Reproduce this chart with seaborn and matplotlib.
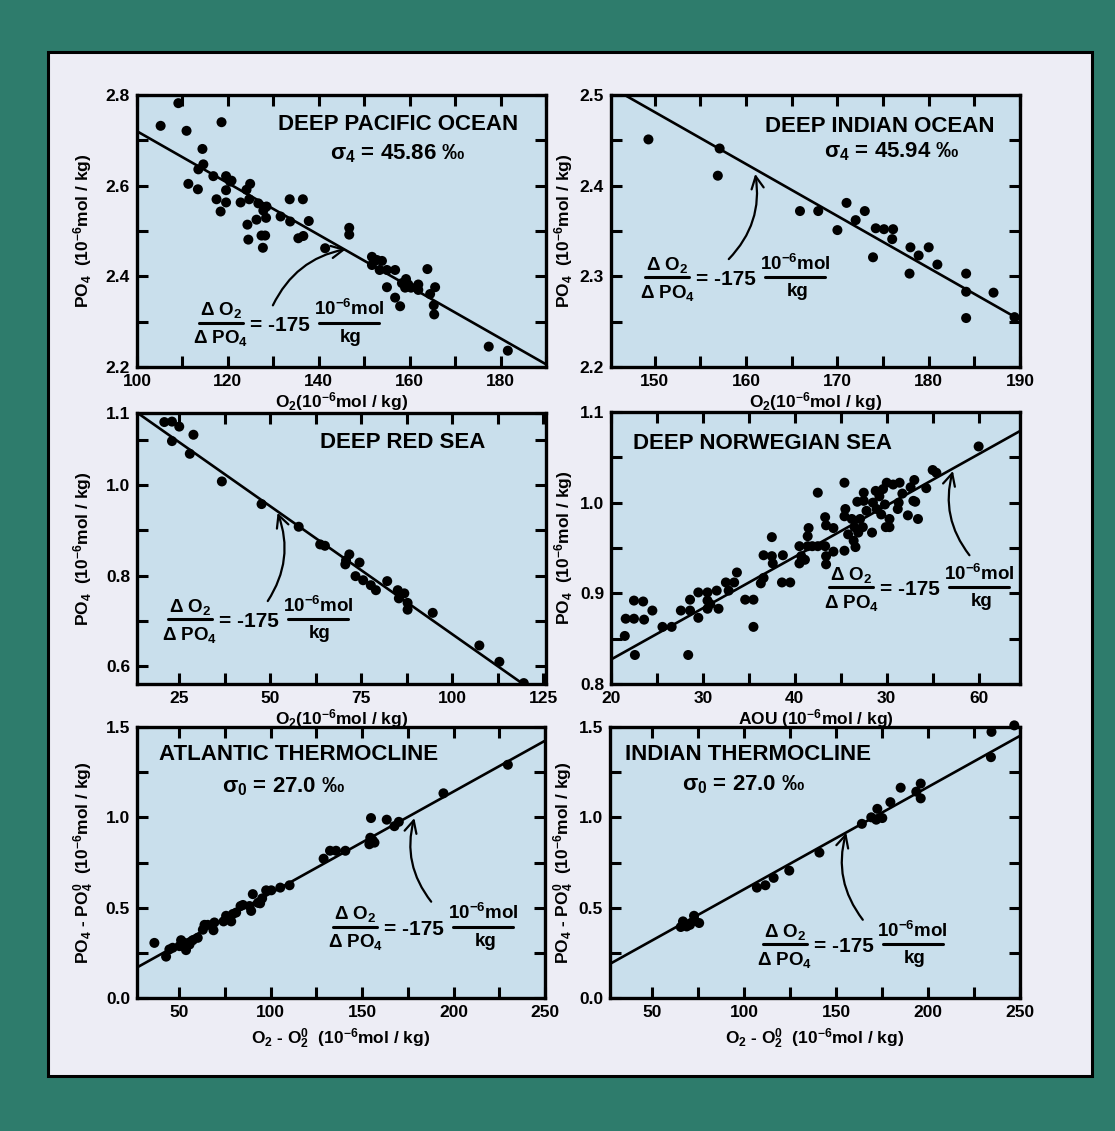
import numpy as np
import pandas as pd
import matplotlib
matplotlib.use("Agg")
import matplotlib.pyplot as plt
import matplotlib.transforms as mtransforms
from matplotlib.patches import Rectangle
from matplotlib.lines import Line2D
import seaborn as sns

# ---------------- data ----------------
pac_o2 = [109.1, 105.2, 110.9, 118.6, 114.4, 114.6, 113.5, 111.3, 113.4, 116.8,
          119.6, 120.8, 119.6, 120.5, 117.5, 119.6, 118.4, 122.8, 124.9, 124.1,
          124.7, 126.7, 127.8, 128.5, 126.3, 128.4, 124.3, 124.5, 127.4, 128.2,
          127.7, 131.6, 133.7, 133.6, 136.5, 137.8, 135.5, 136.6, 141.4,
          146.7, 146.7, 151.7, 152.8, 153.9, 151.7, 153.4, 155.0, 156.8, 155.0,
          156.8, 157.9, 159.2, 158.3, 159.7, 159.0, 160.3, 161.9, 161.9, 163.9,
          165.6, 164.5, 165.3, 165.4, 177.4, 181.6]
pac_po4 = [2.782, 2.732, 2.721, 2.740, 2.681, 2.647, 2.636, 2.604, 2.592, 2.621,
           2.621, 2.611, 2.590, 2.609, 2.570, 2.563, 2.543, 2.563, 2.604, 2.591,
           2.570, 2.561, 2.545, 2.554, 2.525, 2.529, 2.514, 2.481, 2.490, 2.490,
           2.463, 2.532, 2.521, 2.570, 2.570, 2.522, 2.484, 2.489, 2.462,
           2.507, 2.492, 2.443, 2.436, 2.434, 2.425, 2.414, 2.414, 2.414, 2.376,
           2.353, 2.334, 2.394, 2.385, 2.382, 2.375, 2.375, 2.382, 2.370, 2.416,
           2.376, 2.361, 2.336, 2.316, 2.245, 2.236]
pac_fit_x = [100, 190]
pac_fit_y = [2.72, 2.206]

ind_o2 = [149.3, 157.1, 156.9, 165.9, 167.9, 170.0, 171.0, 172.0, 173.0, 174.2,
          175.1, 176.1, 176.0, 173.9, 178.0, 177.9, 178.9, 180.0, 180.95, 184.1,
          184.1, 184.1, 187.1, 189.4]
ind_po4 = [2.451, 2.441, 2.411, 2.372, 2.372, 2.351, 2.381, 2.362, 2.372, 2.353,
           2.352, 2.352, 2.341, 2.321, 2.332, 2.303, 2.323, 2.332, 2.313, 2.303,
           2.283, 2.254, 2.282, 2.255]
ind_fit_x = [146.7, 190]
ind_fit_y = [2.5, 2.252]

red_o2 = [20.9, 23.0, 25.0, 23.0, 28.9, 27.9, 36.7, 47.6, 57.8, 63.7, 65.0, 70.8,
          71.7, 70.6, 74.5, 73.4, 75.5, 77.6, 79.0, 82.1, 85.0, 86.8, 85.3, 87.7,
          87.7, 94.6, 107.4, 112.9, 119.6]
red_po4 = [1.139, 1.140, 1.129, 1.097, 1.111, 1.069, 1.008, 0.958, 0.908, 0.869,
           0.866, 0.834, 0.847, 0.825, 0.829, 0.799, 0.790, 0.779, 0.768, 0.788,
           0.768, 0.761, 0.750, 0.740, 0.725, 0.718, 0.646, 0.610, 0.563]
red_fit_x = [13.4, 121.0]
red_fit_y = [1.160, 0.552]

nor_aou = [21.5, 21.6, 22.5, 22.6, 22.5, 23.5, 23.6, 24.5, 25.6, 26.6, 27.6, 28.6,
           28.6, 28.4, 29.5, 29.5, 30.5, 30.5, 30.5, 30.8, 31.5, 31.7, 32.5, 32.8,
           33.4, 33.7, 34.6, 35.5, 35.5, 36.3, 36.6, 36.6, 37.5, 37.5, 37.6, 38.6,
           39.5, 38.7, 40.5, 40.7, 41.1, 40.5, 41.4, 41.9, 42.5, 41.4, 41.5, 42.5,
           43.3, 43.3, 43.4, 43.4, 43.4, 44.2, 44.2,
           45.4, 45.5, 45.4, 45.4, 46.2, 45.8, 46.5, 46.9, 46.4, 46.6, 47.1, 47.4,
           47.5, 47.5, 47.8, 48.5, 48.4, 48.9, 49.2, 49.4, 49.6, 49.8, 50.0, 50.3,
           50.3, 50.7, 51.4, 51.3, 51.2, 52.3, 53.0, 52.9, 53.4, 54.3, 55.0, 55.4,
           60.0, 48.8, 52.6, 51.7, 53.1, 49.9, 46.8]
nor_po4 = [0.853, 0.872, 0.872, 0.832, 0.892, 0.891, 0.871, 0.881, 0.863, 0.863,
           0.881, 0.893, 0.881, 0.832, 0.901, 0.873, 0.901, 0.892, 0.883, 0.888,
           0.903, 0.883, 0.912, 0.903, 0.912, 0.923, 0.893, 0.893, 0.863, 0.911,
           0.917, 0.942, 0.941, 0.962, 0.933, 0.912, 0.912, 0.942, 0.933, 0.941,
           0.937, 0.952, 0.952, 0.952, 0.952, 0.963, 0.972, 1.011,
           0.952, 0.984, 0.975, 0.941, 0.932, 0.972, 0.946,
           1.022, 0.993, 0.985, 0.947, 0.982, 0.965, 0.973, 0.967, 0.958, 0.951,
           0.982, 0.973, 1.011, 1.002, 0.991, 1.000, 0.967, 0.993, 1.007, 0.987,
           1.015, 0.998, 1.022, 0.973, 0.982, 1.020, 1.022, 1.000, 0.993, 0.986,
           1.025, 1.002, 0.982, 1.016, 1.036, 1.033, 1.062,
           1.013, 1.017, 1.010, 1.001, 0.973, 1.001]
nor_fit_x = [20, 64.5]
nor_fit_y = [0.827, 1.079]

atl_do2 = [36.5, 42.9, 44.7, 46.5, 51.1, 52.9, 50.2, 53.8, 55.7, 57.5,
           60.2, 63.9, 63.0, 65.7, 68.8, 69.3, 74.3, 75.7, 78.5, 79.4,
           81.2, 83.6, 84.9, 88.5, 89.4, 90.3, 93.1, 95.4, 94.3, 97.6,
           100.4, 105.3, 110.4, 129.0, 132.5, 135.8, 140.9, 154.9, 154.0, 155.8,
           154.5, 156.8, 163.5, 167.7, 170.1, 194.5, 229.7]
atl_dpo4 = [0.305, 0.229, 0.269, 0.278, 0.320, 0.305, 0.287, 0.265, 0.296, 0.320,
            0.333, 0.405, 0.378, 0.405, 0.375, 0.418, 0.424, 0.455, 0.424, 0.465,
            0.473, 0.509, 0.515, 0.509, 0.482, 0.575, 0.527, 0.551, 0.524, 0.596,
            0.596, 0.611, 0.624, 0.771, 0.815, 0.815, 0.815, 0.996, 0.851, 0.873,
            0.887, 0.860, 0.987, 0.951, 0.975, 1.133, 1.291]
atl_fit_x = [27, 250]
atl_fit_y = [0.169, 1.424]

itc_do2 = [65.5, 66.7, 68.7, 70.5, 72.7, 73.1, 75.5, 106.9, 111.5, 116.0, 124.5,
           140.9, 164.0, 169.1, 171.8, 172.4, 175.1, 179.5, 185.1, 193.6, 196.0,
           196.0, 234.5, 234.2, 246.9]
itc_dpo4 = [0.393, 0.424, 0.396, 0.405, 0.455, 0.429, 0.415, 0.611, 0.624, 0.665,
            0.705, 0.805, 0.964, 1.000, 0.987, 1.047, 0.996, 1.084, 1.164, 1.142,
            1.187, 1.105, 1.473, 1.333, 1.509]
itc_fit_x = [27, 250]
itc_fit_y = [0.189, 1.451]

# tick labels
pac_xticks = [100, 110, 120, 130, 140, 150, 160, 170, 180, 190]
pac_xlabels = ["100", "", "120", "", "140", "", "160", "", "180", ""]
pac_yticks = [2.2, 2.3, 2.4, 2.5, 2.6, 2.7, 2.8]
pac_ylabels = ["2.2", "", "2.4", "", "2.6", "", "2.8"]
ind_xticks = [150, 155, 160, 165, 170, 175, 180, 185, 190]
ind_xlabels = ["150", "", "160", "", "170", "", "180", "", "190"]
ind_yticks = [2.2, 2.25, 2.3, 2.35, 2.4, 2.45, 2.5]
ind_ylabels = ["2.2", "", "2.3", "", "2.4", "", "2.5"]
red_xticks = [25, 37.5, 50, 62.5, 75, 87.5, 100, 112.5, 125]
red_xlabels = ["25", "", "50", "", "75", "", "100", "", "125"]
red_yticks = [0.6, 0.7, 0.8, 0.9, 1.0, 1.1, 1.159]
red_ylabels = ["0.6", "", "0.8", "", "1.0", "", "1.1"]
nor_xticks = [20, 25, 30, 35, 40, 45, 50, 55, 60]
nor_xlabels = ["20", "", "30", "", "40", "", "30", "", "60"]
nor_yticks = [0.8, 0.85, 0.9, 0.95, 1.0, 1.05, 1.1]
nor_ylabels = ["0.8", "", "0.9", "", "1.0", "", "1.1"]
thc_xticks = [50, 75, 100, 125, 150, 175, 200, 225, 250]
thc_xlabels = ["50", "", "100", "", "150", "", "200", "", "250"]
thc_yticks = [0.0, 0.25, 0.5, 0.75, 1.0, 1.25, 1.5]
thc_ylabels = ["0.0", "", "0.5", "", "1.0", "", "1.5"]

# ---------------- style ----------------
sns.set_style("ticks")
plt.rcParams["font.family"] = ["Liberation Sans", "DejaVu Sans"]
plt.rcParams["font.weight"] = "bold"
plt.rcParams["axes.labelweight"] = "bold"
plt.rcParams["text.color"] = "black"
plt.rcParams["axes.labelcolor"] = "black"
plt.rcParams["xtick.color"] = "black"
plt.rcParams["ytick.color"] = "black"
plt.rcParams["mathtext.fontset"] = "custom"
plt.rcParams["mathtext.rm"] = "Liberation Sans:bold"
plt.rcParams["mathtext.it"] = "Liberation Sans:bold"
plt.rcParams["mathtext.bf"] = "Liberation Sans:bold"
plt.rcParams["mathtext.sf"] = "Liberation Sans:bold"
plt.rcParams["mathtext.default"] = "rm"

TEAL = "#2E7C6C"
LAV = "#EDEDF5"
AXBG = "#C9DFEC"

W, H = 1115, 1131
fig = plt.figure(figsize=(W / 100, H / 100), dpi=100, facecolor=TEAL)
fig.patches.append(Rectangle((48 / W, 1 - 1076 / H), (1092 - 48) / W, (1076 - 52) / H,
                             transform=fig.transFigure, facecolor=LAV, edgecolor="black",
                             linewidth=2.2, zorder=-5))


def make_ax(x0, y0, x1, y1):
    ax = fig.add_axes([x0 / W, 1 - y1 / H, (x1 - x0) / W, (y1 - y0) / H])
    ax.set_zorder(2)
    ax.set_facecolor(AXBG)
    for s in ax.spines.values():
        s.set_linewidth(2.4)
        s.set_color("black")
        s.set_visible(True)
    ax.tick_params(direction="in", length=8, width=2.2, top=True, right=True,
                   labelsize=12.5, pad=5, colors="black")
    return ax


def slope_note(ax, fx, fy):
    pix = mtransforms.ScaledTranslation(fx, fy, ax.transAxes)
    ax.text(-7, 0, "= -175", transform=pix, ha="left", va="center", fontsize=15)
    ax.text(-36, 15, "Δ O$_2$", transform=pix, ha="center", va="center", fontsize=13.5)
    ax.text(-36, -13, "Δ PO$_4$", transform=pix, ha="center", va="center", fontsize=13.5)
    ax.add_line(Line2D([-58, -14], [2.5, 2.5], transform=pix, color="black", lw=2.2))
    ax.text(92, 16, "10$^{-6}$mol", transform=pix, ha="center", va="center", fontsize=13.5)
    ax.text(94, -12, "kg", transform=pix, ha="center", va="center", fontsize=13.5)
    ax.add_line(Line2D([62, 122], [2.5, 2.5], transform=pix, color="black", lw=2.2))


def arrow(ax, tail, head, rad):
    ax.annotate("", xy=head, xytext=tail,
                arrowprops=dict(arrowstyle="->", lw=1.6, color="black",
                                mutation_scale=22, shrinkA=0, shrinkB=0,
                                connectionstyle=f"arc3,rad={rad}"))


def panel(ax, x, y, fx, fy, xlim, ylim, xt, xl, yt, yl, clip=True):
    sns.lineplot(x=fx, y=fy, ax=ax, color="black", linewidth=1.9, zorder=2)
    sns.scatterplot(x=x, y=y, ax=ax, color="black", s=52, edgecolor="none",
                    linewidth=0, zorder=3, clip_on=clip)
    ax.set_xlim(*xlim)
    ax.set_ylim(*ylim)
    ax.set_xticks(xt)
    ax.set_xticklabels(xl)
    ax.set_yticks(yt)
    ax.set_yticklabels(yl)


YL = "PO$_4$  (10$^{-6}$mol / kg)"
YL2 = "PO$_4$ - PO$_4^0$  (10$^{-6}$mol / kg)"
XL_O2 = "O$_2$(10$^{-6}$mol / kg)"
XL_D = "O$_2$ - O$_2^0$  (10$^{-6}$mol / kg)"
TFS = 16
LFS = 12.5

# Panel 1: Deep Pacific
ax1 = make_ax(137, 95, 546, 367)
panel(ax1, pac_o2, pac_po4, pac_fit_x, pac_fit_y, (100, 190), (2.2, 2.8),
      pac_xticks, pac_xlabels, pac_yticks, pac_ylabels)
ax1.text(0.639, 0.89, "DEEP PACIFIC OCEAN", transform=ax1.transAxes, ha="center", va="center", fontsize=TFS)
ax1.text(0.639, 0.783, "$\\sigma_4$ = 45.86 ‰", transform=ax1.transAxes, ha="center", va="center", fontsize=TFS)
slope_note(ax1, 0.293, 0.154)
arrow(ax1, (129.9, 2.336), (146.0, 2.46), -0.25)
ax1.set_xlabel(XL_O2, fontsize=LFS, fontweight="bold")
ax1.set_ylabel(YL, fontsize=LFS, fontweight="bold")
ax1.xaxis.set_label_coords(0.5, -0.085)
ax1.yaxis.set_label_coords(-0.105, 0.5)

# Panel 2: Deep Indian
ax2 = make_ax(611, 95, 1020, 367)
panel(ax2, ind_o2, ind_po4, ind_fit_x, ind_fit_y, (145.2, 190), (2.2, 2.5),
      ind_xticks, ind_xlabels, ind_yticks, ind_ylabels)
ax2.text(0.658, 0.883, "DEEP INDIAN OCEAN", transform=ax2.transAxes, ha="center", va="center", fontsize=TFS)
ax2.text(0.686, 0.792, "$\\sigma_4$ = 45.94 ‰", transform=ax2.transAxes, ha="center", va="center", fontsize=TFS)
slope_note(ax2, 0.226, 0.320)
arrow(ax2, (158.1, 2.319), (161.0, 2.413), 0.25)
ax2.set_xlabel(XL_O2, fontsize=LFS, fontweight="bold")
ax2.set_ylabel(YL, fontsize=LFS, fontweight="bold")
ax2.xaxis.set_label_coords(0.5, -0.085)
ax2.yaxis.set_label_coords(-0.088, 0.5)

# Panel 3: Deep Red Sea
ax3 = make_ax(137, 413, 546, 684)
panel(ax3, red_o2, red_po4, red_fit_x, red_fit_y, (13.4, 125.7), (0.561, 1.159),
      red_xticks, red_xlabels, red_yticks, red_ylabels)
ax3.text(0.65, 0.89, "DEEP RED SEA", transform=ax3.transAxes, ha="center", va="center", fontsize=TFS)
slope_note(ax3, 0.217, 0.230)
arrow(ax3, (49.3, 0.744), (52.0, 0.939), 0.25)
ax3.set_xlabel(XL_O2, fontsize=LFS, fontweight="bold")
ax3.set_ylabel(YL, fontsize=LFS, fontweight="bold")
ax3.xaxis.set_label_coords(0.5, -0.084)
ax3.yaxis.set_label_coords(-0.105, 0.5)

# Panel 4: Deep Norwegian Sea
ax4 = make_ax(611, 412, 1020, 684)
panel(ax4, nor_aou, nor_po4, nor_fit_x, nor_fit_y, (20, 64.5), (0.8, 1.1),
      nor_xticks, nor_xlabels, nor_yticks, nor_ylabels)
ax4.text(0.37, 0.885, "DEEP NORWEGIAN SEA", transform=ax4.transAxes, ha="center", va="center", fontsize=TFS)
slope_note(ax4, 0.676, 0.346)
arrow(ax4, (59.0, 0.942), (57.2, 1.035), -0.25)
ax4.set_xlabel("AOU (10$^{-6}$mol / kg)", fontsize=LFS, fontweight="bold")
ax4.set_ylabel(YL, fontsize=LFS, fontweight="bold")
ax4.xaxis.set_label_coords(0.5, -0.085)
ax4.yaxis.set_label_coords(-0.088, 0.5)

# Panel 5: Atlantic thermocline
ax5 = make_ax(137, 727, 545, 998)
panel(ax5, atl_do2, atl_dpo4, atl_fit_x, atl_fit_y, (27, 250), (0.0, 1.5),
      thc_xticks, thc_xlabels, thc_yticks, thc_ylabels)
ax5.text(0.395, 0.897, "ATLANTIC THERMOCLINE", transform=ax5.transAxes, ha="center", va="center", fontsize=TFS)
ax5.text(0.36, 0.78, "$\\sigma_0$ = 27.0 ‰", transform=ax5.transAxes, ha="center", va="center", fontsize=TFS)
slope_note(ax5, 0.623, 0.254)
arrow(ax5, (187.8, 0.533), (178.6, 0.996), -0.25)
ax5.set_xlabel(XL_D, fontsize=LFS, fontweight="bold")
ax5.set_ylabel(YL2, fontsize=LFS, fontweight="bold")
ax5.xaxis.set_label_coords(0.5, -0.105)
ax5.yaxis.set_label_coords(-0.1, 0.5)

# Panel 6: Indian thermocline
ax6 = make_ax(610, 727, 1020, 998)
panel(ax6, itc_do2, itc_dpo4, itc_fit_x, itc_fit_y, (27, 250), (0.0, 1.5),
      thc_xticks, thc_xlabels, thc_yticks, thc_ylabels, clip=False)
ax6.text(0.337, 0.897, "INDIAN THERMOCLINE", transform=ax6.transAxes, ha="center", va="center", fontsize=TFS)
ax6.text(0.325, 0.786, "$\\sigma_0$ = 27.0 ‰", transform=ax6.transAxes, ha="center", va="center", fontsize=TFS)
slope_note(ax6, 0.514, 0.189)
arrow(ax6, (164.5, 0.433), (155.5, 0.915), -0.25)
ax6.set_xlabel(XL_D, fontsize=LFS, fontweight="bold")
ax6.set_ylabel(YL2, fontsize=LFS, fontweight="bold")
ax6.xaxis.set_label_coords(0.5, -0.105)
ax6.yaxis.set_label_coords(-0.083, 0.5)

fig.savefig("out.png", dpi=100, facecolor=TEAL)
